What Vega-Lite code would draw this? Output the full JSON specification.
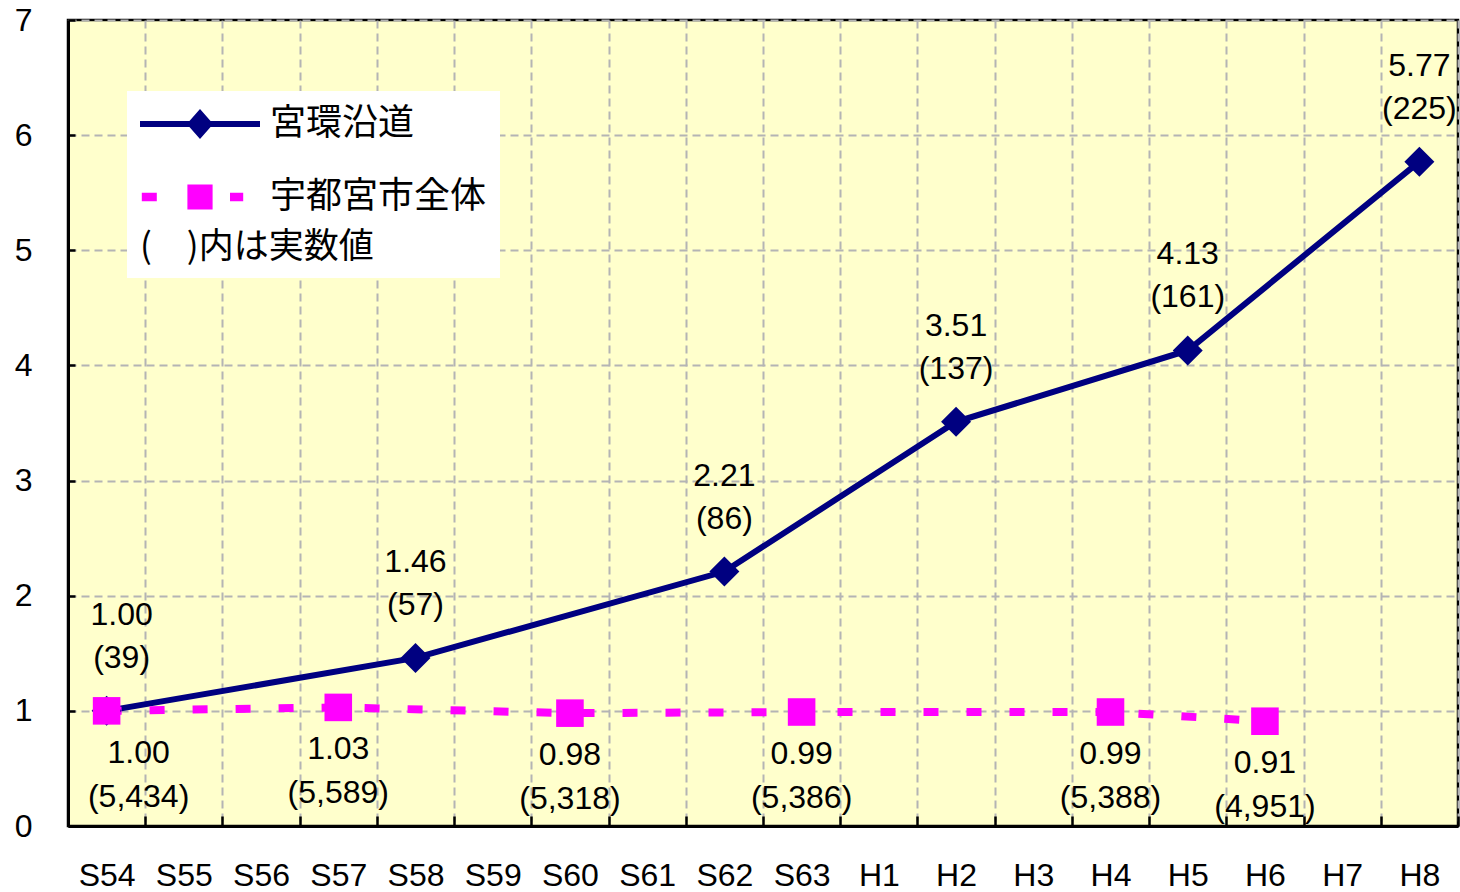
{
  "$schema": "https://vega.github.io/schema/vega-lite/v6.json",
  "width": 1390,
  "height": 806,
  "autosize": {"type": "none"},
  "padding": {"left": 68, "top": 20, "right": 2, "bottom": 66},
  "background": "white",
  "config": {
    "view": {"fill": "#FFFFCC", "stroke": "black", "strokeWidth": 2.5},
    "axis": {
      "labelFont": "Liberation Sans",
      "labelFontSize": 32,
      "labelColor": "black",
      "domainColor": "black",
      "domainWidth": 3,
      "tickColor": "black",
      "tickWidth": 2.5,
      "gridColor": "#B4B4B4",
      "gridWidth": 2,
      "gridDash": [8, 5],
      "title": null
    }
  },
  "data": {
    "values": [
      {"year": "S54", "series": "宮環沿道", "value": 1.00, "label": "1.00\n(39)"},
      {"year": "S58", "series": "宮環沿道", "value": 1.46, "label": "1.46\n(57)"},
      {"year": "S62", "series": "宮環沿道", "value": 2.21, "label": "2.21\n(86)"},
      {"year": "H2", "series": "宮環沿道", "value": 3.51, "label": "3.51\n(137)"},
      {"year": "H5", "series": "宮環沿道", "value": 4.13, "label": "4.13\n(161)"},
      {"year": "H8", "series": "宮環沿道", "value": 5.77, "label": "5.77\n(225)"},
      {"year": "S54", "series": "宇都宮市全体", "value": 1.00, "label": "1.00\n(5,434)"},
      {"year": "S57", "series": "宇都宮市全体", "value": 1.03, "label": "1.03\n(5,589)"},
      {"year": "S60", "series": "宇都宮市全体", "value": 0.98, "label": "0.98\n(5,318)"},
      {"year": "S63", "series": "宇都宮市全体", "value": 0.99, "label": "0.99\n(5,386)"},
      {"year": "H4", "series": "宇都宮市全体", "value": 0.99, "label": "0.99\n(5,388)"},
      {"year": "H6", "series": "宇都宮市全体", "value": 0.91, "label": "0.91\n(4,951)"}
    ]
  },
  "encoding": {
    "x": {
      "field": "year",
      "type": "nominal",
      "sort": null,
      "scale": {
        "domain": ["S54","S55","S56","S57","S58","S59","S60","S61","S62","S63","H1","H2","H3","H4","H5","H6","H7","H8"],
        "paddingInner": 0,
        "paddingOuter": 0
      },
      "axis": {
        "labelAngle": 0,
        "tickBand": "extent",
        "tickSize": -10,
        "labelPadding": 44,
        "grid": true
      }
    },
    "y": {
      "field": "value",
      "type": "quantitative",
      "scale": {"domain": [0, 7], "nice": false, "zero": true},
      "axis": {
        "values": [0, 1, 2, 3, 4, 5, 6, 7],
        "tickSize": -7,
        "labelPadding": 43,
        "grid": true
      }
    }
  },
  "layer": [
    {
      "transform": [{"filter": "datum.series === '宮環沿道'"}],
      "mark": {"type": "line", "color": "#000080", "strokeWidth": 6, "strokeCap": "round"}
    },
    {
      "transform": [{"filter": "datum.series === '宇都宮市全体'"}],
      "mark": {"type": "line", "color": "#FF00FF", "strokeWidth": 8, "strokeDash": [15, 28], "strokeCap": "butt"}
    },
    {
      "transform": [{"filter": "datum.series === '宮環沿道'"}],
      "mark": {"type": "point", "filled": true, "opacity": 1, "shape": "diamond", "size": 900, "color": "#000080"}
    },
    {
      "transform": [{"filter": "datum.series === '宇都宮市全体'"}],
      "mark": {"type": "point", "filled": true, "opacity": 1, "shape": "square", "size": 760, "color": "#FF00FF"}
    },
    {
      "mark": {"type": "point", "filled": true, "size": 0, "opacity": 1},
      "encoding": {
        "color": {
          "field": "series",
          "type": "nominal",
          "scale": {"domain": ["宮環沿道", "宇都宮市全体"], "range": ["#000080", "#FF00FF"]},
          "legend": {
            "orient": "none",
            "legendX": 59,
            "legendY": 71,
            "title": "(　)内は実数値",
            "titleOrient": "bottom",
            "titleAnchor": "start",
            "titleFont": "Noto Sans CJK JP",
            "titleFontSize": 35,
            "titleFontWeight": "normal",
            "titleColor": "black",
            "titlePadding": 13,
            "titleLimit": 0,
            "labelFont": "Noto Sans CJK JP",
            "labelFontSize": 36,
            "labelColor": "black",
            "labelOffset": 10,
            "labelLimit": 0,
            "symbolSize": 14400,
            "symbolStrokeWidth": 0,
            "symbolOpacity": 1,
            "clipHeight": 40,
            "rowPadding": 33,
            "fillColor": "white",
            "padding": 13
          }
        },
        "shape": {
          "field": "series",
          "type": "nominal",
          "scale": {
            "domain": ["宮環沿道", "宇都宮市全体"],
            "range": [
              "M-1,-0.05L1,-0.05L1,0.05L-1,0.05Z M0,-0.25L0.22,0L0,0.25L-0.22,0Z",
              "M-0.97,-0.07L-0.72,-0.07L-0.72,0.07L-0.97,0.07Z M-0.21,-0.21L0.21,-0.21L0.21,0.21L-0.21,0.21Z M0.5,-0.07L0.72,-0.07L0.72,0.07L0.5,0.07Z"
            ]
          }
        }
      }
    },
    {
      "transform": [{"filter": "datum.series === '宮環沿道'"}],
      "mark": {
        "type": "text",
        "font": "Liberation Sans",
        "fontSize": 32,
        "color": "black",
        "lineBreak": "\n",
        "lineHeight": 43,
        "baseline": "bottom",
        "dy": -79,
        "dx": {"expr": "datum.year === 'S54' ? 15 : 0"}
      },
      "encoding": {"text": {"field": "label"}}
    },
    {
      "transform": [{"filter": "datum.series === '宇都宮市全体'"}],
      "mark": {
        "type": "text",
        "font": "Liberation Sans",
        "fontSize": 32,
        "color": "black",
        "lineBreak": "\n",
        "lineHeight": 44,
        "baseline": "top",
        "dy": 27,
        "dx": {"expr": "datum.year === 'S54' ? 32 : 0"}
      },
      "encoding": {"text": {"field": "label"}}
    }
  ]
}
